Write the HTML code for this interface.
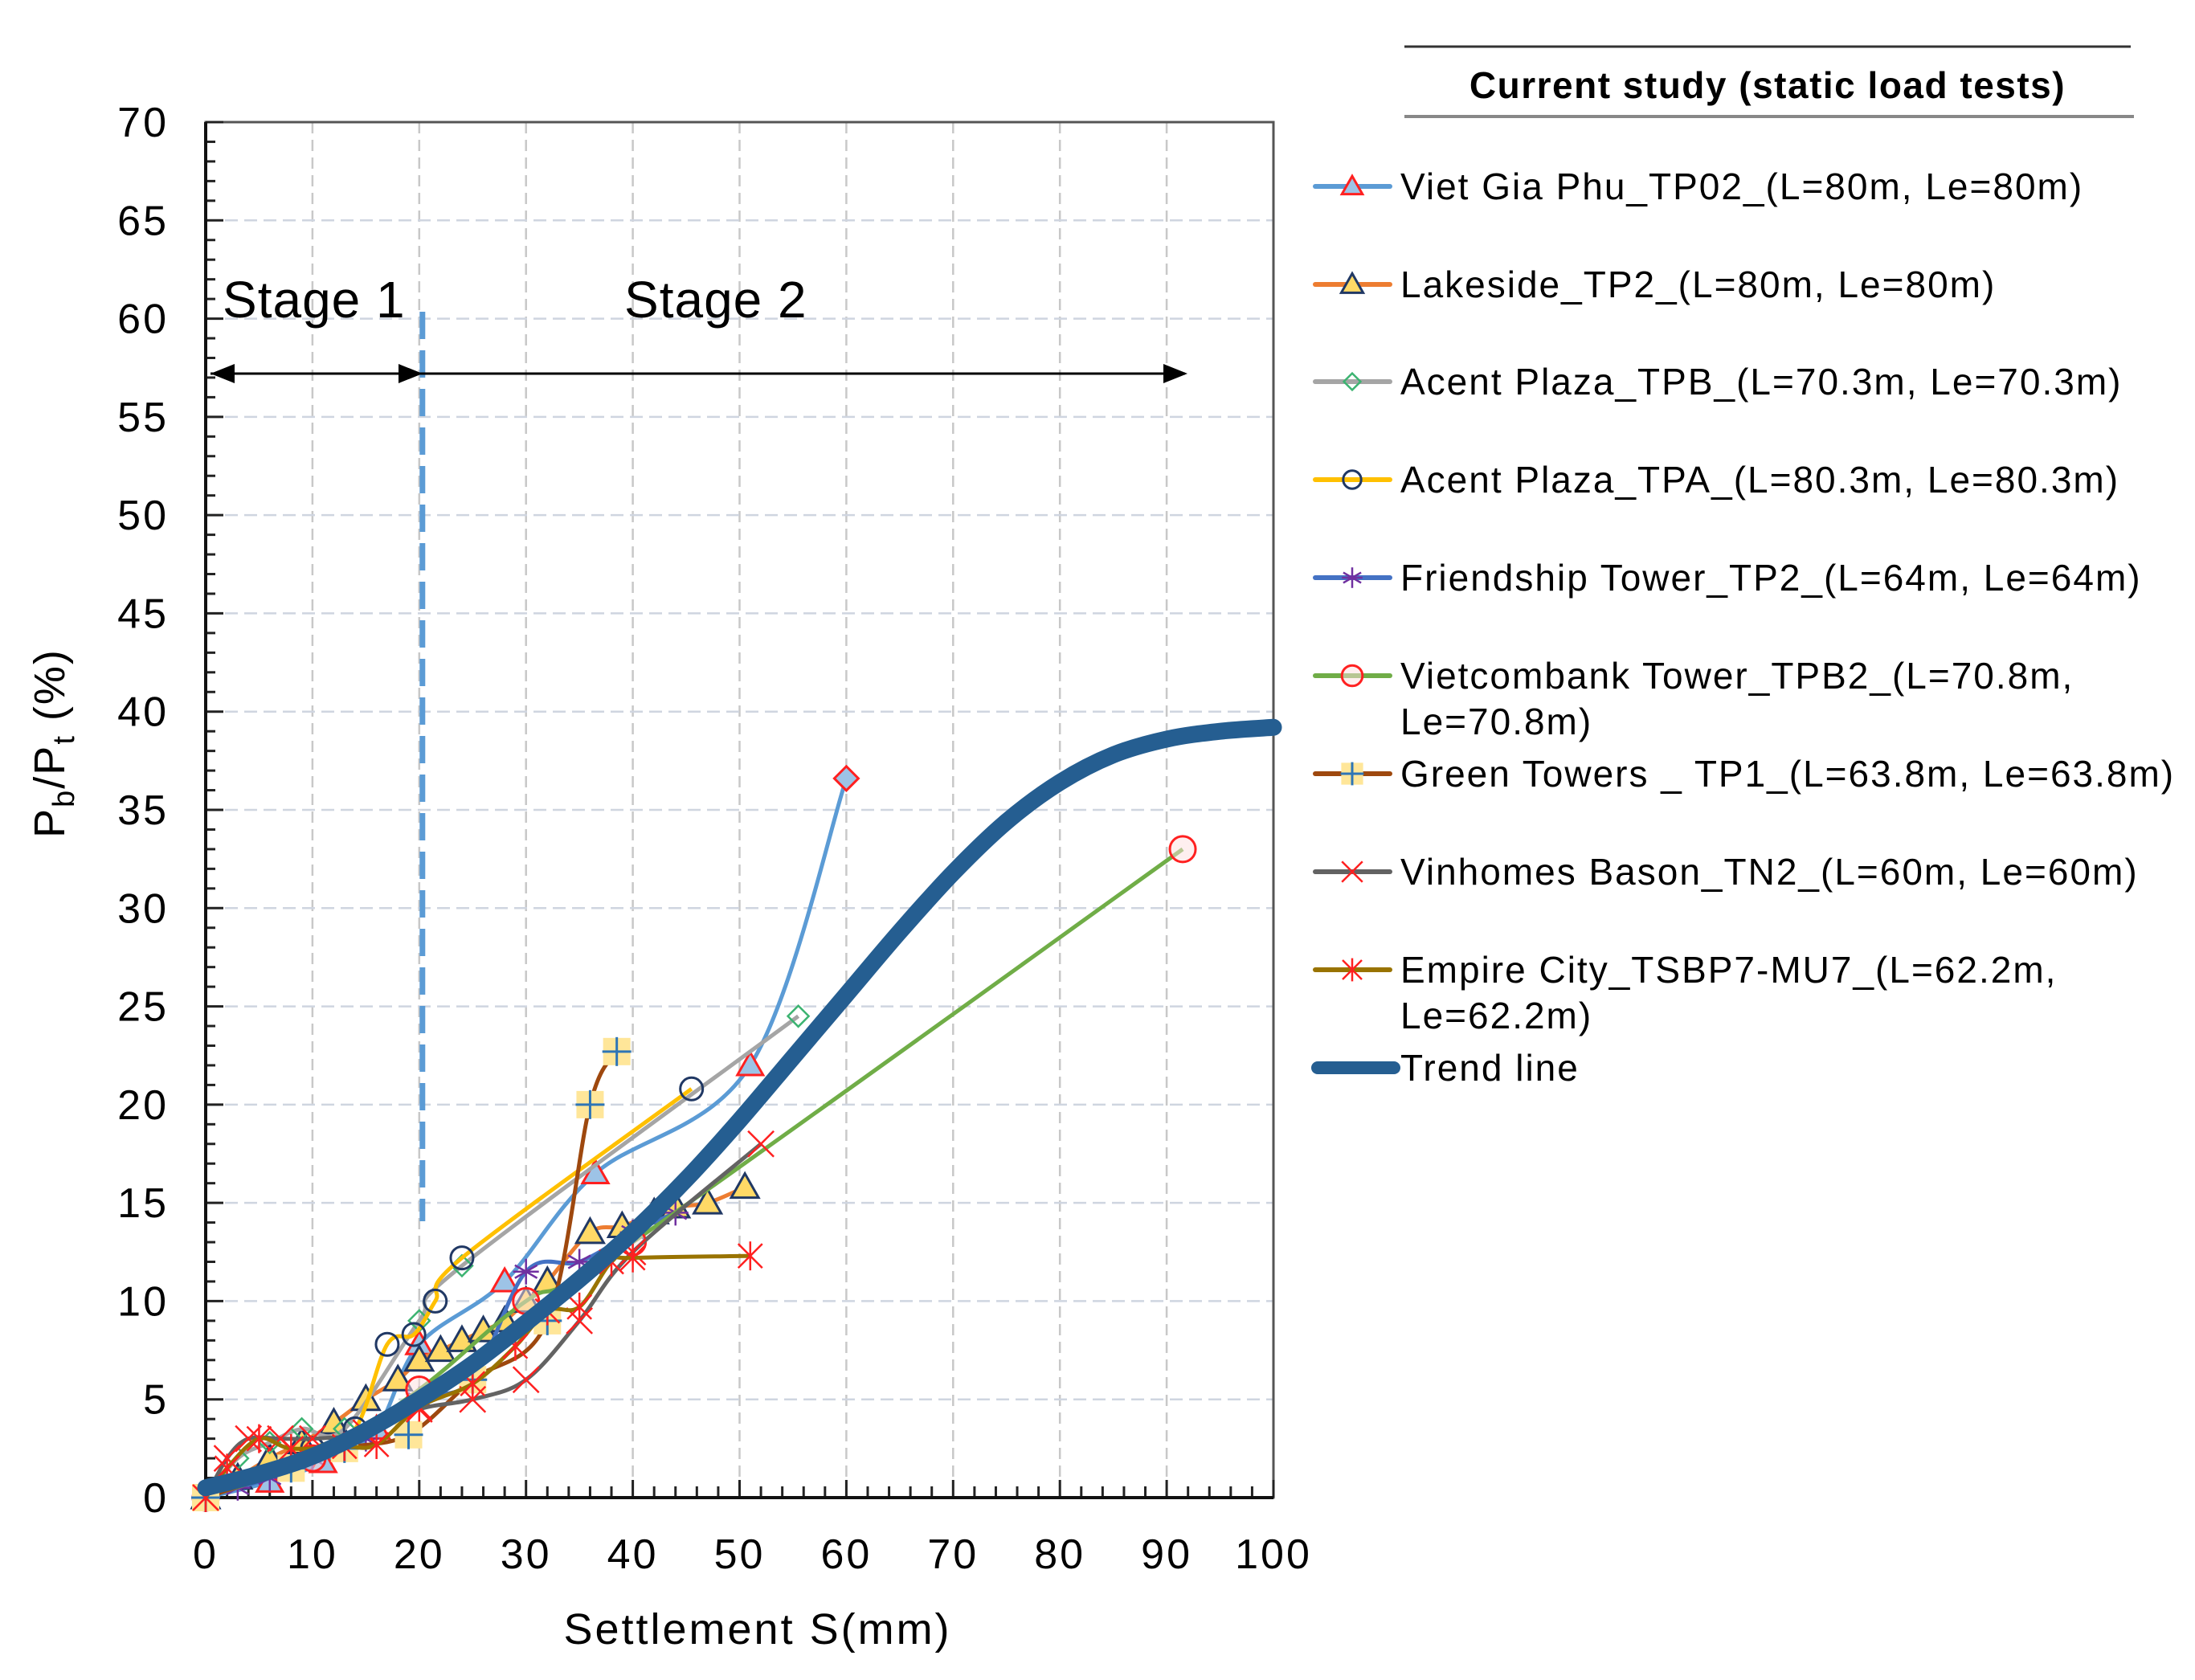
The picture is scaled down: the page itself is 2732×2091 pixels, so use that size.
<!DOCTYPE html>
<html><head><meta charset="utf-8"><style>
html,body{margin:0;padding:0;background:#fff;}
svg{display:block;font-family:"Liberation Sans",sans-serif;}
</style></head><body>
<svg id="chart" width="2732" height="2091" viewBox="0 0 2732 2091" xmlns="http://www.w3.org/2000/svg"></svg>
<script>
const xTicks=[0,10,20,30,40,50,60,70,80,90,100];
const yTicks=[0,5,10,15,20,25,30,35,40,45,50,55,60,65,70];
const seriesNames=["Viet Gia Phu_TP02_(L=80m, Le=80m)","Lakeside_TP2_(L=80m, Le=80m)","Acent Plaza_TPB_(L=70.3m, Le=70.3m)","Acent Plaza_TPA_(L=80.3m, Le=80.3m)","Friendship Tower_TP2_(L=64m, Le=64m)","Vietcombank Tower_TPB2_(L=70.8m,|Le=70.8m)","Green Towers _ TP1_(L=63.8m, Le=63.8m)","Vinhomes Bason_TN2_(L=60m, Le=60m)","Empire City_TSBP7-MU7_(L=62.2m,|Le=62.2m)"];
const s1X=[0,6,11,16,20,28,36.5,51,60];
const s1Y=[0,0.8,1.8,3.5,7.8,11,16.5,22,36.6];
const s2X=[0,3,6,9,12,15,18,20,22,24,26,28,30,32,36,39,42,44,47,50.5];
const s2Y=[0,1,2,2.8,3.8,5,6,7,7.5,8,8.5,9,10,11,13.5,13.8,14.5,14.8,15,15.8];
const s3X=[0,3,6,9,13,20,24,55.5];
const s3Y=[0,2,2.8,3.5,3.5,9,11.8,24.5];
const s4X=[0,10,14,17,19.5,21.5,24,45.5];
const s4Y=[0,2.5,3.5,7.8,8.3,10,12.2,20.8];
const s5X=[0,3,6,10,15,20,25,30,35,40,44];
const s5Y=[0,0.5,1,2,3,5,6,11.5,12,13.5,14.5];
const s6X=[0,10,20,30,40,91.5];
const s6Y=[0,2,5.5,10,13,33];
const s7X=[0,8,13,19,25,32,36,38.5];
const s7Y=[0,1.5,2.5,3.2,6,9,20,22.7];
const s8X=[0,2,4,7,10,15,20,25,30,35,40,52];
const s8Y=[0,2,3,3,3,3.3,4.5,5,6,9,12.5,18];
const s9X=[0,2,5,8,13,16,20,25,29,32,35,38,40,51];
const s9Y=[0,1.5,3,2.5,2.6,2.7,4.6,5.8,7.7,9.5,9.7,12,12.2,12.3];
const trendX=[0,5,10,15,20,25,30,35,40,45,50,55,60,65,70,75,80,85,90,95,100];
const trendY=[0.5,1.2,2.1,3.4,5,6.8,8.9,11.1,13.5,16.2,19.2,22.4,25.6,28.8,31.8,34.4,36.4,37.8,38.6,39.0,39.2];

const NS="http://www.w3.org/2000/svg";
const svg=document.getElementById('chart');
const X0=256,X1=1585,Y0=1864,Y1=152;
const sx=v=>X0+(v-0)/(100)*(X1-X0);
const sy=v=>Y0-(v-0)/(70)*(Y0-Y1);
function el(tag,attrs,parent){const e=document.createElementNS(NS,tag);for(const k in attrs)e.setAttribute(k,attrs[k]);(parent||svg).appendChild(e);return e;}
function smooth(pts){let d=`M${pts[0][0]},${pts[0][1]}`;for(let i=0;i<pts.length-1;i++){const p0=pts[Math.max(0,i-1)],p1=pts[i],p2=pts[i+1],p3=pts[Math.min(pts.length-1,i+2)];const t=1/6;const c1=[p1[0]+(p2[0]-p0[0])*t,p1[1]+(p2[1]-p0[1])*t];const c2=[p2[0]-(p3[0]-p1[0])*t,p2[1]-(p3[1]-p1[1])*t];d+=` C${c1[0]},${c1[1]} ${c2[0]},${c2[1]} ${p2[0]},${p2[1]}`;}return d;}

const grid=el('g',{});


xTicks.forEach(t=>{if(t>0&&t<100){const l=el('line',{x1:sx(t),x2:sx(t),y1:Y1,y2:Y0,stroke:'#c8c8c8','stroke-width':2.5,'stroke-dasharray':'14 8'},grid);}});
yTicks.forEach(t=>{if(t>0&&t<70){const l=el('line',{x1:X0,x2:X1,y1:sy(t),y2:sy(t),stroke:'#cfd5e0','stroke-width':2.5,'stroke-dasharray':'16 8'},grid);}});
const frame=el('rect',{x:X0,y:Y1,width:X1-X0,height:Y0-Y1,fill:'none',stroke:'#555','stroke-width':3});


for(let v=0;v<=100;v+=2){const t=el('line',{x1:sx(v),x2:sx(v),y1:Y0,y2:Y0-(v%10===0?22:14),stroke:'#222','stroke-width':3});}
for(let v=0;v<=70;v+=1){const t=el('line',{x1:X0,x2:X0+(v%5===0?22:12),y1:sy(v),y2:sy(v),stroke:'#222','stroke-width':3});}
el('line',{x1:X0,x2:X1,y1:Y0,y2:Y0,stroke:'#111','stroke-width':4});
el('line',{x1:X0,x2:X0,y1:Y1,y2:Y0,stroke:'#111','stroke-width':4});
xTicks.forEach(t=>{const tx=el('text',{x:sx(t),y:1952,'font-size':52,'letter-spacing':3,'text-anchor':'middle',fill:'#000'});tx.textContent=t;});
yTicks.forEach(t=>{const tx=el('text',{x:210,y:sy(t)+18,'font-size':52,'letter-spacing':3,'text-anchor':'end',fill:'#000'});tx.textContent=t;});
const xt=el('text',{x:943,y:2046,'font-size':54,'letter-spacing':3,'text-anchor':'middle'});xt.textContent='Settlement S(mm)';


const yt=el('text',{transform:'translate(80,925) rotate(-90)','font-size':54,'letter-spacing':2,'text-anchor':'middle'});
yt.innerHTML='P<tspan font-size="38" dy="12">b</tspan><tspan dy="-12">/P</tspan><tspan font-size="38" dy="12">t</tspan><tspan dy="-12"> (%)</tspan>';



const s1=el('text',{x:277,y:395,'font-size':64,'letter-spacing':1});s1.textContent='Stage 1';


const s2=el('text',{x:777,y:395,'font-size':64,'letter-spacing':1});s2.textContent='Stage 2';


const sdiv=el('line',{x1:sx(20.3),x2:sx(20.3),y1:388,y2:1520,stroke:'#5B9BD5','stroke-width':7,'stroke-dasharray':'34 14'});


const arr=el('g',{});


el('line',{x1:262,x2:524,y1:465,y2:465,stroke:'#000','stroke-width':3},arr);
el('line',{x1:524,x2:1475,y1:465,y2:465,stroke:'#000','stroke-width':3},arr);
el('polygon',{points:'262,465 292,453 292,477'},arr);
el('polygon',{points:'526,465 496,453 496,477'},arr);
el('polygon',{points:'1478,465 1448,453 1448,477'},arr);

function marker(type,x,y,g,s){s=s||1;
 switch(type){
 case 'triR':el('polygon',{points:`${x},${y-16*s} ${x+16*s},${y+12*s} ${x-16*s},${y+12*s}`,fill:'#9dc3e6',stroke:'#ff2020','stroke-width':3},g);break;
 case 'triN':el('polygon',{points:`${x},${y-17*s} ${x+17*s},${y+13*s} ${x-17*s},${y+13*s}`,fill:'#ffd966',stroke:'#203864','stroke-width':3},g);break;
 case 'dia':el('polygon',{points:`${x},${y-13*s} ${x+13*s},${y} ${x},${y+13*s} ${x-13*s},${y}`,fill:'none',stroke:'#3cb371','stroke-width':2.5},g);break;
 case 'circN':el('circle',{cx:x,cy:y,r:14*s,fill:'none',stroke:'#203864','stroke-width':3},g);break;
 case 'astP':for(const a of [0,60,120]){const r=a*Math.PI/180;el('line',{x1:x-16*s*Math.sin(r),y1:y-16*s*Math.cos(r),x2:x+16*s*Math.sin(r),y2:y+16*s*Math.cos(r),stroke:'#7030a0','stroke-width':2.5},g);}el('line',{x1:x-16*s,x2:x+16*s,y1:y,y2:y,stroke:'#7030a0','stroke-width':2.5},g);break;
 case 'circR':el('circle',{cx:x,cy:y,r:16*s,fill:'#fde0e0','fill-opacity':0.5,stroke:'#ff2020','stroke-width':3},g);break;
 case 'plus':el('rect',{x:x-17*s,y:y-17*s,width:34*s,height:34*s,fill:'#ffe699'},g);el('line',{x1:x-18*s,x2:x+18*s,y1:y,y2:y,stroke:'#2e75b6','stroke-width':3},g);el('line',{x1:x,x2:x,y1:y-18*s,y2:y+18*s,stroke:'#2e75b6','stroke-width':3},g);break;
 case 'xR':el('line',{x1:x-16*s,y1:y-16*s,x2:x+16*s,y2:y+16*s,stroke:'#ff2020','stroke-width':2.5},g);el('line',{x1:x-16*s,y1:y+16*s,x2:x+16*s,y2:y-16*s,stroke:'#ff2020','stroke-width':2.5},g);break;
 case 'astR':el('line',{x1:x-15*s,y1:y-15*s,x2:x+15*s,y2:y+15*s,stroke:'#ff2020','stroke-width':2.5},g);el('line',{x1:x-15*s,y1:y+15*s,x2:x+15*s,y2:y-15*s,stroke:'#ff2020','stroke-width':2.5},g);el('line',{x1:x,y1:y-18*s,x2:x,y2:y+18*s,stroke:'#ff2020','stroke-width':2.5},g);break;
 }}
const series=[
 {xs:s1X,ys:s1Y,color:'#5B9BD5',m:'triR',name:'series-viet-gia-phu'},
 {xs:s2X,ys:s2Y,color:'#ED7D31',m:'triN',name:'series-lakeside'},
 {xs:s3X,ys:s3Y,color:'#A5A5A5',m:'dia',name:'series-acent-plaza-tpb'},
 {xs:s4X,ys:s4Y,color:'#FFC000',m:'circN',name:'series-acent-plaza-tpa'},
 {xs:s5X,ys:s5Y,color:'#4472C4',m:'astP',name:'series-friendship-tower'},
 {xs:s6X,ys:s6Y,color:'#70AD47',m:'circR',name:'series-vietcombank-tower'},
 {xs:s7X,ys:s7Y,color:'#9E480E',m:'plus',name:'series-green-towers'},
 {xs:s8X,ys:s8Y,color:'#636363',m:'xR',name:'series-vinhomes-bason'},
 {xs:s9X,ys:s9Y,color:'#997300',m:'astR',name:'series-empire-city'}
];
series.forEach(s=>{
 const g=el('g',{});
 
 
 const pts=s.xs.map((v,i)=>[sx(v),sy(s.ys[i])]);
 const p=el('path',{d:smooth(pts),fill:'none',stroke:s.color,'stroke-width':5},g);
 
 
 pts.forEach((pt,i)=>{
   if(s.m==='triR'&&i===pts.length-1){el('polygon',{points:`${pt[0]},${pt[1]-15} ${pt[0]+15},${pt[1]} ${pt[0]},${pt[1]+15} ${pt[0]-15},${pt[1]}`,fill:'#9dc3e6',stroke:'#ff2020','stroke-width':3},g);}
   else marker(s.m,pt[0],pt[1],g);
 });
});
const tp=trendX.map((v,i)=>[sx(v),sy(trendY[i])]);
const tr=el('path',{d:smooth(tp),fill:'none',stroke:'#255E91','stroke-width':21,'stroke-linecap':'round'});



const lg=el('g',{});


el('line',{x1:1748,x2:2652,y1:58,y2:58,stroke:'#333','stroke-width':3},lg);
el('line',{x1:1748,x2:2656,y1:145,y2:145,stroke:'#888','stroke-width':4},lg);
const lh=el('text',{x:2200,y:122,'font-size':46,'font-weight':'bold','letter-spacing':1.5,'text-anchor':'middle'},lg);lh.textContent='Current study (static load tests)';


const legY=[232,354,475,597,719,841,963,1085,1207];
series.forEach((s,i)=>{
 const e=el('g',{},lg);
 
 
 const y=legY[i];
 el('line',{x1:1637,x2:1730,y1:y,y2:y,stroke:s.color,'stroke-width':6,'stroke-linecap':'round'},e);
 marker(s.m,1683,y,e,0.8);
 const parts=seriesNames[i].split('|');
 parts.forEach((p,j)=>{const t=el('text',{x:1743,y:y+16+j*57,'font-size':46,'letter-spacing':2},e);t.textContent=p;});
});
const te=el('g',{},lg);


el('line',{x1:1640,x2:1735,y1:1329,y2:1329,stroke:'#255E91','stroke-width':16,'stroke-linecap':'round'},te);
const tt=el('text',{x:1743,y:1345,'font-size':46,'letter-spacing':2},te);tt.textContent='Trend line';
</script>
</body></html>
